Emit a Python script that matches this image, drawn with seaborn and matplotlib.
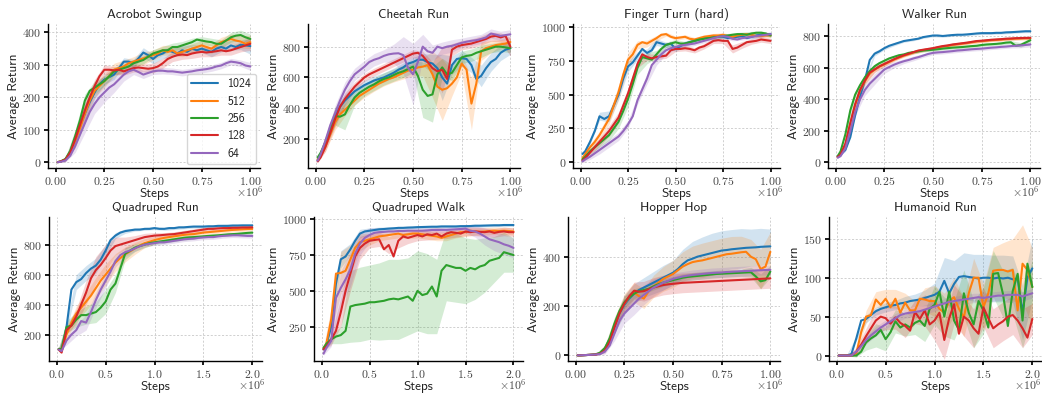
import numpy as np
import pandas as pd
import matplotlib
matplotlib.use("Agg")
import matplotlib.pyplot as plt
import seaborn as sns
from matplotlib.ticker import MultipleLocator, ScalarFormatter

# ---------------- data ----------------
SIZES = ["1024", "512", "256", "128", "64"]

# environment steps (thousands); bands are given at every second step
STEPS_1M_K = [10, 25, 50, 75, 100, 125, 150, 175, 200, 225, 250, 275, 300, 325, 350, 375, 400, 425, 450, 475,
              500, 525, 550, 575, 600, 625, 650, 675, 700, 725, 750, 775, 800, 825, 850, 875, 900, 925, 950, 975, 1000]
STEPS_2M_K = [20, 50, 100, 150, 200, 250, 300, 350, 400, 450, 500, 550, 600, 650, 700, 750, 800, 850, 900, 950,
              1000, 1050, 1100, 1150, 1200, 1250, 1300, 1350, 1400, 1450, 1500, 1550, 1600, 1650, 1700, 1750, 1800,
              1850, 1900, 1950, 2000]
OFFSET_LABEL = r"$\times10^{6}$"

# Acrobot Swingup
ACRO_1024 = [0, 2, 8, 30, 70, 110, 150, 185, 215, 240, 255, 262, 270, 290, 310, 310, 305, 320, 338, 330, 318, 330, 335, 345, 340, 335, 345, 340, 350, 345, 350, 345, 340, 350, 355, 350, 360, 355, 362, 360, 358]
ACRO_512 = [0, 2, 8, 28, 65, 105, 150, 190, 220, 235, 250, 265, 285, 290, 295, 305, 310, 315, 320, 325, 330, 335, 345, 340, 345, 335, 340, 345, 350, 355, 360, 355, 350, 360, 370, 375, 380, 375, 372, 365, 370]
ACRO_256 = [0, 2, 10, 35, 80, 130, 190, 220, 230, 240, 250, 265, 280, 285, 290, 295, 305, 310, 315, 325, 335, 340, 345, 345, 355, 355, 360, 365, 370, 378, 375, 372, 370, 365, 365, 375, 385, 390, 392, 385, 380]
ACRO_128 = [0, 2, 8, 30, 70, 115, 160, 200, 235, 265, 285, 285, 283, 285, 280, 285, 290, 292, 290, 288, 290, 295, 305, 318, 325, 330, 332, 330, 335, 338, 340, 338, 340, 342, 345, 342, 345, 350, 355, 360, 365]
ACRO_64 = [0, 1, 5, 20, 50, 85, 120, 155, 180, 200, 215, 230, 240, 255, 270, 280, 285, 278, 270, 275, 280, 282, 282, 280, 280, 278, 276, 278, 280, 283, 285, 287, 290, 295, 298, 305, 310, 308, 305, 298, 295]
ACRO_1024_SD = [1, 5, 25, 30, 20, 15, 15, 12, 12, 15, 15, 15, 15, 15, 12, 12, 15, 15, 15, 15, 25]
ACRO_512_SD = [1, 5, 20, 25, 20, 20, 20, 20, 15, 20, 15, 15, 15, 15, 15, 15, 15, 15, 15, 20, 20]
ACRO_256_SD = [1, 5, 20, 20, 20, 15, 12, 12, 12, 12, 12, 12, 12, 12, 12, 12, 12, 12, 15, 15, 15]
ACRO_128_SD = [1, 5, 20, 25, 20, 15, 12, 12, 12, 12, 15, 15, 15, 15, 15, 15, 15, 15, 15, 15, 20]
ACRO_64_SD = [1, 5, 20, 30, 30, 30, 25, 20, 15, 12, 10, 10, 10, 10, 10, 10, 10, 10, 10, 10, 12]

# Cheetah Run
CHEE_1024 = [60, 90, 170, 260, 350, 410, 450, 480, 510, 530, 550, 565, 580, 590, 600, 615, 630, 650, 665, 690, 700, 715, 715, 700, 690, 660, 600, 560, 680, 720, 725, 720, 680, 590, 610, 660, 700, 720, 760, 780, 790]
CHEE_512 = [70, 90, 150, 230, 310, 360, 390, 420, 450, 480, 500, 520, 540, 560, 575, 590, 600, 615, 630, 645, 650, 665, 670, 680, 620, 540, 520, 530, 560, 600, 690, 650, 430, 560, 770, 790, 800, 810, 815, 820, 830]
CHEE_256 = [80, 110, 180, 270, 350, 345, 360, 420, 470, 500, 520, 540, 555, 575, 590, 600, 615, 630, 640, 655, 670, 610, 520, 480, 490, 620, 665, 620, 630, 680, 730, 740, 745, 760, 770, 780, 790, 800, 800, 795, 790]
CHEE_128 = [55, 80, 150, 240, 330, 410, 460, 500, 540, 570, 600, 620, 635, 650, 665, 680, 695, 710, 725, 740, 755, 760, 740, 700, 660, 640, 650, 590, 780, 800, 810, 815, 820, 830, 840, 850, 865, 870, 860, 870, 800]
CHEE_64 = [60, 100, 190, 290, 370, 450, 520, 575, 620, 645, 670, 700, 715, 725, 740, 750, 755, 757, 745, 660, 620, 700, 800, 770, 760, 800, 790, 800, 805, 815, 825, 832, 838, 842, 850, 860, 885, 878, 870, 875, 880]
CHEE_1024_SD = [10, 30, 50, 40, 30, 30, 30, 30, 30, 30, 30, 40, 60, 150, 60, 50, 50, 70, 60, 50, 40]
CHEE_512_SD = [10, 30, 50, 40, 30, 30, 30, 30, 30, 40, 40, 60, 150, 200, 80, 60, 170, 60, 40, 30, 30]
CHEE_256_SD = [10, 30, 60, 100, 50, 40, 40, 40, 40, 40, 40, 180, 180, 60, 50, 40, 40, 40, 30, 30, 30]
CHEE_128_SD = [10, 30, 50, 40, 30, 25, 25, 25, 25, 25, 25, 30, 40, 150, 40, 30, 30, 30, 30, 30, 60]
CHEE_64_SD = [10, 30, 50, 50, 40, 40, 40, 40, 60, 120, 200, 80, 50, 40, 40, 30, 30, 30, 30, 30, 30]

# Finger Turn (hard)
FING_1024 = [60, 80, 150, 230, 340, 320, 340, 420, 500, 620, 710, 740, 790, 840, 810, 830, 890, 880, 870, 880, 840, 860, 880, 890, 900, 910, 920, 925, 930, 935, 930, 920, 925, 930, 935, 920, 930, 940, 945, 950, 950]
FING_512 = [30, 60, 110, 150, 200, 260, 320, 420, 520, 650, 760, 800, 870, 890, 880, 900, 920, 945, 950, 930, 920, 925, 930, 915, 910, 920, 930, 935, 940, 940, 945, 935, 930, 940, 945, 950, 945, 935, 935, 940, 940]
FING_256 = [20, 40, 80, 110, 140, 170, 200, 250, 300, 380, 470, 580, 700, 780, 770, 760, 800, 840, 870, 880, 890, 880, 880, 890, 900, 910, 915, 920, 925, 930, 935, 940, 945, 950, 950, 945, 955, 960, 960, 955, 940]
FING_128 = [10, 30, 70, 110, 150, 190, 230, 280, 330, 420, 510, 620, 730, 800, 780, 770, 780, 785, 790, 830, 840, 840, 845, 840, 830, 850, 860, 880, 900, 905, 900, 900, 840, 850, 870, 890, 895, 900, 910, 905, 900]
FING_64 = [5, 20, 40, 65, 90, 115, 140, 165, 190, 230, 280, 340, 460, 540, 620, 720, 760, 800, 830, 845, 855, 865, 870, 875, 880, 890, 900, 910, 920, 930, 935, 930, 915, 910, 920, 925, 930, 935, 940, 945, 950]
FING_1024_SD = [10, 20, 30, 40, 40, 40, 30, 30, 25, 20, 20, 20, 15, 15, 15, 15, 15, 15, 15, 15, 15]
FING_512_SD = [10, 20, 30, 40, 50, 50, 30, 25, 20, 15, 15, 15, 15, 15, 15, 15, 15, 15, 15, 15, 15]
FING_256_SD = [10, 20, 30, 40, 50, 60, 50, 40, 30, 20, 20, 15, 15, 15, 15, 15, 15, 15, 15, 15, 15]
FING_128_SD = [10, 30, 30, 40, 40, 40, 30, 25, 20, 20, 20, 20, 20, 20, 20, 20, 30, 25, 20, 20, 20]
FING_64_SD = [10, 20, 30, 30, 30, 30, 30, 40, 40, 30, 20, 20, 15, 15, 15, 15, 15, 15, 15, 15, 15]

# Walker Run
WALK_1024 = [40, 50, 80, 160, 300, 420, 520, 650, 690, 705, 725, 740, 750, 760, 770, 775, 780, 785, 795, 800, 805, 805, 802, 805, 808, 810, 810, 812, 815, 818, 820, 820, 820, 822, 822, 825, 826, 828, 830, 832, 832]
WALK_512 = [35, 48, 115, 245, 365, 455, 515, 565, 588, 608, 622, 637, 652, 665, 677, 687, 697, 706, 712, 717, 722, 729, 735, 739, 745, 749, 753, 757, 762, 767, 769, 772, 775, 777, 779, 782, 783, 785, 786, 787, 787]
WALK_256 = [40, 70, 180, 330, 430, 490, 540, 580, 610, 630, 645, 660, 670, 680, 685, 695, 700, 705, 710, 712, 715, 718, 722, 725, 728, 730, 732, 735, 738, 740, 745, 748, 750, 752, 755, 760, 762, 740, 745, 760, 775]
WALK_128 = [35, 50, 120, 250, 370, 460, 520, 570, 590, 610, 625, 640, 655, 668, 680, 690, 700, 710, 715, 720, 725, 732, 738, 742, 748, 752, 756, 760, 765, 770, 772, 775, 778, 780, 782, 785, 786, 788, 789, 790, 790]
WALK_64 = [30, 40, 90, 200, 320, 400, 460, 500, 530, 560, 590, 605, 620, 632, 642, 650, 660, 668, 678, 688, 695, 698, 700, 703, 706, 710, 712, 715, 718, 720, 722, 725, 728, 730, 733, 735, 738, 740, 742, 745, 748]
WALK_1024_SD = [5, 10, 15, 15, 15, 10, 10, 8, 8, 8, 8, 8, 8, 8, 8, 8, 8, 8, 8, 8, 8]
WALK_512_SD = [5, 10, 20, 20, 15, 12, 10, 10, 10, 10, 10, 10, 10, 10, 10, 10, 10, 10, 10, 10, 10]
WALK_256_SD = [5, 10, 20, 20, 15, 12, 10, 10, 10, 10, 10, 10, 10, 10, 10, 10, 10, 10, 10, 15, 15]
WALK_128_SD = [5, 10, 25, 25, 20, 15, 12, 10, 10, 10, 10, 10, 10, 10, 10, 10, 10, 10, 10, 10, 10]
WALK_64_SD = [5, 10, 25, 35, 35, 25, 20, 15, 15, 12, 12, 12, 12, 12, 12, 12, 12, 12, 12, 15, 15]

# Quadruped Run
QRUN_1024 = [100, 95, 250, 500, 550, 570, 610, 640, 660, 700, 760, 830, 860, 880, 890, 895, 900, 900, 905, 905, 910, 905, 905, 910, 910, 915, 915, 918, 920, 920, 920, 922, 922, 925, 925, 925, 927, 927, 928, 928, 928]
QRUN_512 = [100, 90, 200, 280, 340, 380, 420, 460, 510, 560, 600, 640, 680, 710, 735, 755, 775, 795, 810, 820, 830, 838, 845, 850, 855, 860, 865, 868, 870, 875, 880, 883, 886, 889, 892, 895, 898, 900, 902, 904, 905]
QRUN_256 = [105, 105, 250, 260, 300, 330, 330, 340, 350, 380, 420, 500, 540, 640, 740, 760, 780, 790, 800, 810, 815, 820, 825, 830, 835, 840, 845, 848, 850, 852, 855, 858, 860, 862, 865, 868, 870, 872, 875, 878, 880]
QRUN_128 = [100, 80, 230, 260, 320, 400, 480, 575, 630, 665, 710, 760, 790, 800, 810, 820, 830, 840, 850, 855, 860, 862, 865, 868, 870, 875, 880, 885, 890, 895, 900, 905, 905, 908, 910, 910, 912, 912, 914, 914, 915]
QRUN_64 = [100, 90, 160, 200, 230, 290, 280, 350, 430, 500, 560, 620, 690, 730, 750, 760, 775, 790, 800, 805, 810, 815, 815, 820, 825, 830, 835, 838, 840, 845, 848, 850, 850, 855, 858, 860, 862, 862, 860, 858, 858]
QRUN_1024_SD = [10, 30, 50, 50, 50, 40, 20, 15, 10, 10, 10, 10, 10, 10, 10, 10, 10, 10, 10, 10, 10]
QRUN_512_SD = [10, 30, 50, 60, 70, 70, 60, 50, 40, 30, 25, 20, 15, 15, 15, 15, 15, 15, 15, 15, 15]
QRUN_256_SD = [10, 40, 50, 60, 70, 80, 60, 40, 25, 20, 15, 15, 15, 15, 15, 10, 10, 10, 10, 10, 10]
QRUN_128_SD = [10, 30, 50, 80, 90, 90, 60, 40, 30, 25, 20, 15, 15, 15, 15, 15, 15, 15, 15, 15, 15]
QRUN_64_SD = [10, 30, 40, 50, 50, 50, 40, 30, 20, 15, 15, 15, 15, 15, 15, 15, 15, 15, 15, 15, 15]

# Quadruped Walk
QWLK_1024 = [90, 120, 250, 550, 720, 740, 790, 850, 900, 915, 920, 925, 930, 932, 935, 937, 940, 940, 942, 943, 945, 946, 947, 948, 948, 950, 950, 950, 950, 952, 952, 953, 955, 955, 956, 957, 958, 958, 960, 960, 960]
QWLK_512 = [100, 130, 300, 620, 625, 640, 720, 800, 840, 850, 860, 870, 880, 885, 890, 895, 900, 890, 895, 900, 900, 895, 890, 885, 880, 870, 880, 890, 900, 910, 910, 920, 915, 912, 915, 918, 920, 918, 920, 918, 915]
QWLK_256 = [100, 130, 160, 180, 190, 220, 390, 400, 405, 410, 420, 420, 425, 430, 440, 445, 440, 450, 460, 430, 500, 470, 480, 530, 460, 640, 680, 670, 660, 660, 640, 660, 650, 670, 680, 710, 720, 730, 770, 760, 750]
QWLK_128 = [90, 110, 160, 220, 350, 500, 620, 740, 800, 830, 850, 855, 860, 790, 820, 740, 850, 880, 870, 880, 890, 880, 895, 890, 900, 880, 900, 910, 905, 900, 915, 910, 915, 912, 910, 915, 905, 912, 915, 910, 910]
QWLK_64 = [60, 100, 150, 450, 520, 580, 650, 760, 830, 870, 890, 905, 910, 912, 915, 915, 918, 918, 920, 920, 920, 920, 922, 925, 925, 926, 926, 928, 930, 932, 935, 920, 915, 900, 880, 860, 850, 840, 825, 815, 800]
QWLK_1024_SD = [10, 40, 60, 40, 30, 20, 15, 12, 10, 10, 10, 10, 10, 10, 10, 10, 10, 10, 10, 10, 10]
QWLK_512_SD = [10, 80, 150, 100, 60, 40, 30, 30, 30, 30, 30, 30, 30, 30, 30, 30, 25, 25, 25, 25, 25]
QWLK_256_SD = [10, 30, 60, 250, 260, 260, 270, 280, 280, 270, 280, 280, 260, 250, 240, 230, 210, 190, 160, 140, 120]
QWLK_128_SD = [10, 40, 100, 120, 80, 50, 50, 60, 50, 40, 40, 40, 40, 35, 30, 30, 30, 30, 30, 30, 30]
QWLK_64_SD = [10, 40, 120, 120, 80, 50, 30, 25, 20, 20, 20, 20, 20, 20, 20, 30, 40, 60, 70, 70, 70]

# Hopper Hop
HOP_1024 = [0, 0, 1, 2, 3, 8, 25, 60, 120, 170, 205, 230, 250, 265, 275, 285, 295, 305, 315, 325, 335, 350, 370, 385, 392, 400, 405, 410, 415, 420, 425, 427, 430, 432, 434, 436, 437, 438, 440, 441, 442]
HOP_512 = [0, 0, 1, 2, 3, 8, 28, 65, 125, 175, 210, 235, 255, 240, 230, 260, 280, 295, 310, 320, 330, 345, 360, 370, 378, 382, 385, 390, 395, 400, 405, 410, 412, 415, 418, 420, 400, 390, 350, 360, 420]
HOP_256 = [0, 0, 1, 2, 4, 10, 30, 70, 130, 180, 215, 235, 250, 260, 265, 270, 280, 288, 295, 300, 305, 310, 315, 318, 320, 322, 324, 326, 328, 330, 331, 332, 333, 334, 335, 336, 337, 320, 300, 305, 340]
HOP_128 = [0, 0, 1, 2, 3, 6, 20, 55, 115, 170, 210, 240, 262, 258, 260, 268, 275, 280, 285, 288, 290, 292, 294, 295, 296, 297, 298, 299, 300, 301, 302, 303, 304, 305, 306, 307, 308, 309, 310, 311, 312]
HOP_64 = [0, 0, 1, 2, 3, 5, 15, 40, 90, 140, 170, 190, 210, 230, 245, 260, 275, 285, 295, 302, 310, 315, 320, 323, 326, 328, 330, 332, 334, 335, 336, 338, 339, 340, 341, 342, 343, 344, 345, 346, 347]
HOP_1024_SD = [1, 1, 2, 10, 30, 40, 40, 40, 45, 50, 50, 60, 70, 75, 80, 80, 80, 80, 75, 75, 70]
HOP_512_SD = [1, 1, 2, 10, 30, 40, 40, 40, 45, 50, 55, 60, 65, 70, 70, 70, 70, 65, 70, 80, 80]
HOP_256_SD = [1, 1, 2, 10, 25, 25, 20, 15, 15, 15, 15, 15, 15, 15, 15, 15, 15, 15, 20, 30, 25]
HOP_128_SD = [1, 1, 2, 10, 25, 30, 35, 40, 40, 40, 40, 40, 40, 40, 40, 40, 40, 40, 40, 40, 40]
HOP_64_SD = [1, 1, 2, 10, 30, 40, 45, 40, 35, 30, 25, 20, 20, 20, 20, 20, 20, 20, 20, 20, 20]

# Humanoid Run
HUM_1024 = [0, 0, 0, 2, 22, 45, 47, 52, 57, 60, 62, 64, 65, 67, 68, 70, 71, 72, 74, 76, 78, 82, 96, 80, 92, 101, 102, 101, 100, 99, 100, 100, 99, 100, 99, 100, 98, 99, 55, 100, 112]
HUM_512 = [0, 0, 0, 0, 3, 30, 50, 52, 72, 65, 73, 62, 73, 55, 68, 58, 58, 73, 72, 70, 70, 60, 55, 70, 75, 60, 49, 80, 100, 100, 62, 80, 109, 110, 110, 108, 110, 58, 118, 110, 88]
HUM_256 = [0, 0, 0, 0, 0, 5, 17, 22, 26, 33, 21, 30, 44, 36, 40, 36, 42, 45, 38, 60, 65, 82, 50, 82, 45, 33, 80, 55, 40, 70, 58, 36, 105, 106, 79, 38, 83, 105, 45, 118, 88]
HUM_128 = [0, 0, 0, 0, 5, 14, 25, 35, 45, 50, 48, 41, 49, 42, 38, 32, 56, 47, 58, 40, 45, 55, 20, 48, 66, 28, 50, 45, 35, 28, 62, 48, 35, 40, 44, 50, 52, 45, 35, 23, 47]
HUM_64 = [0, 0, 0, 0, 5, 12, 20, 26, 31, 36, 40, 44, 48, 52, 54, 55, 56, 57, 59, 61, 63, 65, 67, 69, 70, 71, 72, 73, 74, 75, 74, 75, 76, 77, 77, 78, 78, 78, 76, 78, 80]
HUM_1024_SD = [0.5, 0.5, 3, 5, 5, 6, 6, 8, 8, 10, 15, 30, 30, 30, 30, 30, 30, 30, 30, 35, 40]
HUM_512_SD = [0.5, 0.5, 3, 8, 10, 12, 12, 12, 12, 15, 20, 25, 25, 25, 25, 30, 30, 35, 40, 50, 50]
HUM_256_SD = [0.5, 0.5, 2, 10, 15, 15, 15, 15, 15, 20, 25, 25, 25, 30, 30, 30, 30, 30, 30, 35, 35]
HUM_128_SD = [0.5, 0.5, 5, 10, 15, 15, 15, 15, 15, 20, 25, 25, 25, 25, 25, 25, 25, 25, 25, 25, 20]
HUM_64_SD = [0.5, 0.5, 3, 5, 6, 6, 6, 6, 6, 6, 6, 6, 6, 6, 6, 6, 6, 6, 6, 6, 6]

TITLES = ["Acrobot Swingup", "Cheetah Run", "Finger Turn (hard)", "Walker Run",
          "Quadruped Run", "Quadruped Walk", "Hopper Hop", "Humanoid Run"]

PANELS = [
    (STEPS_1M_K, [ACRO_1024, ACRO_512, ACRO_256, ACRO_128, ACRO_64],
     [ACRO_1024_SD, ACRO_512_SD, ACRO_256_SD, ACRO_128_SD, ACRO_64_SD]),
    (STEPS_1M_K, [CHEE_1024, CHEE_512, CHEE_256, CHEE_128, CHEE_64],
     [CHEE_1024_SD, CHEE_512_SD, CHEE_256_SD, CHEE_128_SD, CHEE_64_SD]),
    (STEPS_1M_K, [FING_1024, FING_512, FING_256, FING_128, FING_64],
     [FING_1024_SD, FING_512_SD, FING_256_SD, FING_128_SD, FING_64_SD]),
    (STEPS_1M_K, [WALK_1024, WALK_512, WALK_256, WALK_128, WALK_64],
     [WALK_1024_SD, WALK_512_SD, WALK_256_SD, WALK_128_SD, WALK_64_SD]),
    (STEPS_2M_K, [QRUN_1024, QRUN_512, QRUN_256, QRUN_128, QRUN_64],
     [QRUN_1024_SD, QRUN_512_SD, QRUN_256_SD, QRUN_128_SD, QRUN_64_SD]),
    (STEPS_2M_K, [QWLK_1024, QWLK_512, QWLK_256, QWLK_128, QWLK_64],
     [QWLK_1024_SD, QWLK_512_SD, QWLK_256_SD, QWLK_128_SD, QWLK_64_SD]),
    (STEPS_1M_K, [HOP_1024, HOP_512, HOP_256, HOP_128, HOP_64],
     [HOP_1024_SD, HOP_512_SD, HOP_256_SD, HOP_128_SD, HOP_64_SD]),
    (STEPS_2M_K, [HUM_1024, HUM_512, HUM_256, HUM_128, HUM_64],
     [HUM_1024_SD, HUM_512_SD, HUM_256_SD, HUM_128_SD, HUM_64_SD]),
]

# ---------------- style / layout ----------------
YLIMS = [(-18, 426), (12, 947), (-44, 1025), (-35, 878),
         (24, 984), (9, 1016), (-23, 561), (-7, 178)]
YSTEP = [100, 200, 250, 200, 200, 250, 200, 50]
# (left px, top px, width px)
POS = [(48, 24, 212), (308, 24, 212), (573, 24, 207), (828, 24, 212),
       (49, 217, 213), (314, 217, 209), (568, 217, 212), (829, 217, 213)]
AX_H = 144
FIG_W, FIG_H = 1042, 394

sns.set_theme(style="ticks")
plt.rcParams.update({
    "font.family": ["cmss10", "DejaVu Sans"],
    "mathtext.fontset": "cm",
    "axes.formatter.use_mathtext": True,
    "axes.unicode_minus": False,
    "axes.edgecolor": "black",
    "axes.linewidth": 1.0,
    "xtick.color": "black",
    "ytick.color": "black",
    "xtick.labelcolor": "#444444",
    "ytick.labelcolor": "#444444",
    "xtick.labelsize": 8.5,
    "ytick.labelsize": 8.5,
    "xtick.major.size": 3,
    "ytick.major.size": 3,
    "xtick.major.pad": 2,
    "ytick.major.pad": 2,
    "axes.titlesize": 9.5,
    "axes.labelsize": 9.5,
    "axes.labelpad": 1,
    "axes.titlepad": 4,
    "text.color": "#222222",
    "axes.labelcolor": "#222222",
})

palette = sns.color_palette("tab10")[:5]
fig = plt.figure(figsize=(FIG_W / 100, FIG_H / 100), dpi=100)

for i, (steps_k, means, bands) in enumerate(PANELS):
    l, t, w = POS[i]
    ax = fig.add_axes([l / FIG_W, 1 - (t + AX_H) / FIG_H, w / FIG_W, AX_H / FIG_H])
    steps = np.array(steps_k) * 1000
    rows = []
    for size, m in zip(SIZES, means):
        rows.append(pd.DataFrame({"step": steps, "ret": m, "size": size}))
    df = pd.concat(rows, ignore_index=True)

    for size, m, b, c in zip(SIZES, means, bands, palette):
        m_c = np.array(m)[::2]
        b = np.array(b)
        ax.fill_between(steps[::2], m_c - b, m_c + b, color=c, alpha=0.2, linewidth=0)

    sns.lineplot(data=df, x="step", y="ret", hue="size", hue_order=SIZES, palette=palette,
                 linewidth=1.5, ax=ax, legend=(i == 0), errorbar=None)

    span = steps_k[-1] * 1000
    ax.set_xlim(-0.0395 * span, span * 1.0495)
    ax.xaxis.set_major_locator(MultipleLocator(span / 4))
    fmt = ScalarFormatter(useMathText=True)
    ax.xaxis.set_major_formatter(fmt)
    ax.xaxis.get_offset_text().set_visible(False)
    right_edge = (l + w) >= FIG_W - 3
    ax.text(0.995 if right_edge else 1.015, -0.17, OFFSET_LABEL, transform=ax.transAxes,
            ha="right", va="center", fontsize=8.5, color="#444444")
    ax.set_ylim(*YLIMS[i])
    ax.yaxis.set_major_locator(MultipleLocator(YSTEP[i]))
    ax.tick_params(labelfontfamily="cmr10")
    ax.grid(True, linestyle=(0, (2.5, 2)), linewidth=0.6, color="#c9c9c9")
    ax.set_axisbelow(True)
    ax.set_title(TITLES[i])
    ax.set_xlabel("Steps")
    ax.set_ylabel("Average Return")
    sns.despine(ax=ax)
    if i == 0:
        sns.move_legend(ax, "lower right", title=None, frameon=True, fontsize=8.5,
                        handlelength=2.3, borderaxespad=0.3, labelspacing=0.45)

fig.savefig("out.png", dpi=100)
